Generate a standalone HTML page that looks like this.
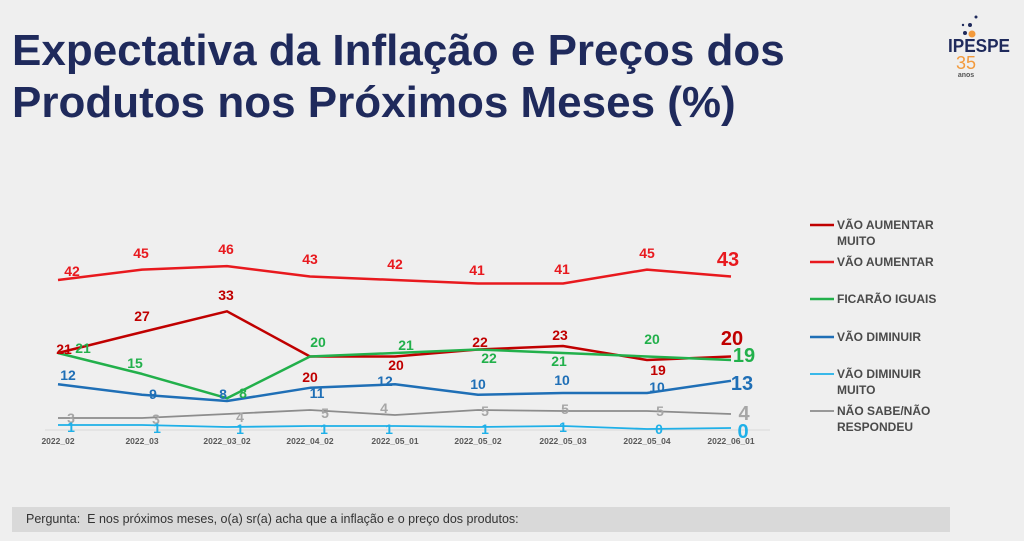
<!DOCTYPE html>
<html><head><meta charset="utf-8"><style>
body{margin:0;width:1024px;height:541px;background:#efefef;overflow:hidden;font-family:"Liberation Sans",sans-serif;position:relative}
.t{position:absolute;left:12px;color:#1f2a5c;font-weight:bold;font-size:44px;line-height:52px;top:25px;letter-spacing:0px}
.box{position:absolute;left:12px;top:507px;width:938px;height:25px;background:#d9d9d9;font-size:12.5px;color:#333;line-height:25px;padding-left:14px;box-sizing:border-box}
svg{position:absolute;left:0;top:0}
</style></head><body>
<div class="t">Expectativa da Inflação e Preços dos<br>Produtos nos Próximos Meses (%)</div>
<svg width="1024" height="541" font-family="Liberation Sans, sans-serif" font-weight="bold" text-anchor="middle">
<text x="979" y="52" font-size="18" fill="#1f2a5c" textLength="62" lengthAdjust="spacingAndGlyphs">IPESPE</text>
<text x="966" y="69" font-size="18" fill="#f39a3c" font-weight="normal">35</text>
<text x="966" y="77" font-size="7" fill="#555">anos</text>
<circle cx="972" cy="34" r="3.5" fill="#f39a3c"/>
<g fill="#1f2a5c"><circle cx="965" cy="33" r="2"/><circle cx="970" cy="25" r="2"/><circle cx="976" cy="17" r="1.5"/><circle cx="963" cy="25" r="1.2"/></g>
<line x1="45" y1="430" x2="770" y2="430" stroke="#d8d8d8"/>
<g fill="none" stroke-width="2.5" stroke-linejoin="round">
<polyline stroke="#e8191e" points="58,280 142,269.6 227,266.1 310,276.5 395,280 478,283.5 563,283.5 647,269.6 731,276.5"/>
<polyline stroke="#c00000" points="58,353 142,332.1 227,311.3 310,356.5 395,356.5 478,349.5 563,346 647,360 731,356.5"/>
<polyline stroke="#22b04b" points="58,353 142,373.9 227,398.2 310,356.5 395,353 478,349.5 563,353 647,356.5 731,360"/>
<polyline stroke="#1f6fb6" points="58,384.3 142,394.7 227,401 310,387.8 395,384.3 478,394.7 563,393 647,393 731,380.8"/>
<polyline stroke="#8c8c8c" stroke-width="1.8" points="58,418 142,418 227,414 310,410 395,415 478,410 563,411 647,411 731,414"/>
<polyline stroke="#1fb0e8" stroke-width="1.8" points="58,425 142,425 227,427 310,426 395,426 478,427 563,426 647,429 731,428"/>
</g>
<g font-size="14">
<g fill="#e8191e"><text x="72" y="276">42</text><text x="141" y="258">45</text><text x="226" y="254">46</text><text x="310" y="264">43</text><text x="395" y="269">42</text><text x="477" y="275">41</text><text x="562" y="274">41</text><text x="647" y="258">45</text><text x="728" y="266" font-size="20">43</text></g>
<g fill="#c00000"><text x="64" y="354">21</text><text x="142" y="321">27</text><text x="226" y="300">33</text><text x="310" y="382">20</text><text x="396" y="370">20</text><text x="480" y="347">22</text><text x="560" y="340">23</text><text x="658" y="375">19</text><text x="732" y="345" font-size="20">20</text></g>
<g fill="#22b04b"><text x="83" y="353">21</text><text x="135" y="368">15</text><text x="243" y="398">8</text><text x="318" y="347">20</text><text x="406" y="350">21</text><text x="489" y="363">22</text><text x="559" y="366">21</text><text x="652" y="344">20</text><text x="744" y="362" font-size="20">19</text></g>
<g fill="#1f6fb6"><text x="68" y="380">12</text><text x="153" y="399">9</text><text x="223" y="399">8</text><text x="317" y="398">11</text><text x="385" y="386">12</text><text x="478" y="389">10</text><text x="562" y="385">10</text><text x="657" y="392">10</text><text x="742" y="390" font-size="20">13</text></g>
<g fill="#a6a6a6"><text x="71" y="423">3</text><text x="156" y="424">3</text><text x="240" y="422">4</text><text x="325" y="418">5</text><text x="384" y="413">4</text><text x="485" y="416">5</text><text x="565" y="414">5</text><text x="660" y="416">5</text><text x="744" y="420" font-size="20">4</text></g>
<g fill="#1fb0e8"><text x="71" y="432">1</text><text x="157" y="433">1</text><text x="240" y="434">1</text><text x="324" y="434">1</text><text x="389" y="434">1</text><text x="485" y="434">1</text><text x="563" y="432">1</text><text x="659" y="434">0</text><text x="743" y="438" font-size="20">0</text></g>
</g>
<g font-size="8.5" fill="#595959"><text x="58" y="444">2022_02</text><text x="142" y="444">2022_03</text><text x="227" y="444">2022_03_02</text><text x="310" y="444">2022_04_02</text><text x="395" y="444">2022_05_01</text><text x="478" y="444">2022_05_02</text><text x="563" y="444">2022_05_03</text><text x="647" y="444">2022_05_04</text><text x="731" y="444">2022_06_01</text></g>
<g stroke-width="2.5"><line x1="810" y1="225" x2="834" y2="225" stroke="#c00000"/><line x1="810" y1="262" x2="834" y2="262" stroke="#e8191e"/><line x1="810" y1="299" x2="834" y2="299" stroke="#22b04b"/><line x1="810" y1="337" x2="834" y2="337" stroke="#1f6fb6"/><line x1="810" y1="374" x2="834" y2="374" stroke="#1fb0e8" stroke-width="1.8"/><line x1="810" y1="411" x2="834" y2="411" stroke="#8c8c8c" stroke-width="1.8"/></g>
<g font-size="12" fill="#4a4a4a" text-anchor="start"><text x="837" y="229">VÃO AUMENTAR</text><text x="837" y="245">MUITO</text><text x="837" y="266">VÃO AUMENTAR</text><text x="837" y="303">FICARÃO IGUAIS</text><text x="837" y="341">VÃO DIMINUIR</text><text x="837" y="378">VÃO DIMINUIR</text><text x="837" y="394">MUITO</text><text x="837" y="415">NÃO SABE/NÃO</text><text x="837" y="431">RESPONDEU</text></g>
</svg>
<div class="box">Pergunta:&nbsp; E nos próximos meses, o(a) sr(a) acha que a inflação e o preço dos produtos:</div>
</body></html>
